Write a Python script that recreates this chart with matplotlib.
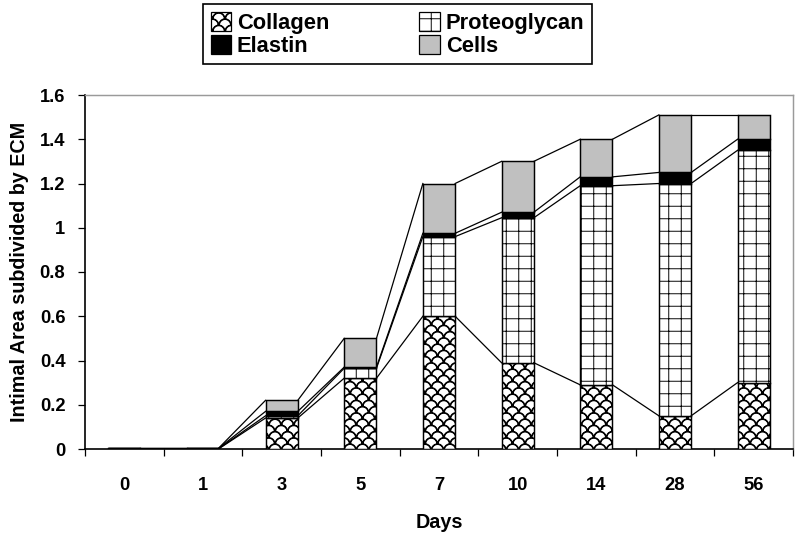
import numpy as np
import matplotlib
matplotlib.use("Agg")
import matplotlib.pyplot as plt
import matplotlib.hatch as mhatch
from matplotlib.path import Path
from matplotlib.patches import Patch
from matplotlib.ticker import FixedLocator, FuncFormatter

# values, stacked bottom -> top
days = ["0", "1", "3", "5", "7", "10", "14", "28", "56"]
collagen = [0.002, 0.002, 0.14, 0.32, 0.60, 0.39, 0.29, 0.15, 0.30]
proteoglycan = [0.001, 0.001, 0.01, 0.045, 0.36, 0.655, 0.90, 1.05, 1.05]
elastin = [0.002, 0.002, 0.02, 0.005, 0.015, 0.025, 0.04, 0.05, 0.05]
cells = [0.001, 0.001, 0.05, 0.13, 0.225, 0.23, 0.17, 0.26, 0.11]

series_names = ["Collagen", "Proteoglycan", "Elastin", "Cells"]
y_ticks = [0, 0.2, 0.4, 0.6, 0.8, 1.0, 1.2, 1.4, 1.6]


# --- scalloped "fish scale" hatch used for collagen (takes over the 'O' code)
_t = np.linspace(0, np.pi, 12)
_arc = np.column_stack([np.cos(_t), np.sin(_t)])
SCALE_VERTS = np.vstack([_arc, _arc[::-1] * 0.88, _arc[:1]])
SCALE_CODES = np.array([Path.MOVETO] + [Path.LINETO] * (len(SCALE_VERTS) - 2)
                       + [Path.CLOSEPOLY], dtype=Path.code_type)


class ScaleHatch(mhatch.HatchPatternBase):
    def __init__(self, hatch, density):
        self.ncols = hatch.count('O') * density
        self.nrows = 2 * self.ncols
        n_shapes = 0
        if self.ncols:
            n_shapes = sum(self.ncols + 1 if r % 2 == 0 else self.ncols
                           for r in range(self.nrows + 1))
        self.num_vertices = n_shapes * len(SCALE_VERTS)

    def set_vertices_and_codes(self, vertices, codes):
        step = 1.0 / self.ncols
        shape = SCALE_VERTS * step / 2
        parts = []
        for row in range(self.nrows + 1):
            if row % 2 == 0:
                xs = np.linspace(0, 1, self.ncols + 1)
            else:
                xs = (np.arange(self.ncols) + 0.5) * step
            for x in xs:
                parts.append(shape + [x, row * step / 2])
        np.concatenate(parts, out=vertices)
        codes[:] = np.tile(SCALE_CODES, len(parts))


mhatch._hatch_types[mhatch._hatch_types.index(mhatch.LargeCircles)] = ScaleHatch

plt.rcParams['font.family'] = ['Liberation Sans', 'DejaVu Sans']
plt.rcParams['font.weight'] = 'bold'
plt.rcParams['hatch.linewidth'] = 0.45
plt.rcParams['hatch.color'] = 'black'

DPI = 150
fig = plt.figure(figsize=(800 / DPI, 541 / DPI), dpi=DPI)
ax = fig.add_axes([85 / 800, 92 / 541, 708 / 800, 354 / 541])

styles = [
    dict(color='white', hatch='OO'),
    dict(color='white', hatch='++'),
    dict(color='black', hatch=None),
    dict(color='#c0c0c0', hatch=None),
]

x = np.arange(len(days))
width = 0.41
bottom = np.zeros(len(days))
tops = []
for vals, st in zip([collagen, proteoglycan, elastin, cells], styles):
    vals = np.asarray(vals)
    ax.bar(x, vals, width=width, bottom=bottom, color=st['color'],
           hatch=st['hatch'], edgecolor='black', linewidth=0.7, zorder=3)
    bottom = bottom + vals
    tops.append(bottom.copy())

# Excel-style series lines joining the segment tops of neighbouring bars
for top in tops:
    for i in range(len(days) - 1):
        ax.plot([x[i] + width / 2, x[i + 1] - width / 2], [top[i], top[i + 1]],
                color='black', linewidth=0.6, zorder=4)

ax.set_xlim(-0.5, len(days) - 0.5)
ax.set_ylim(0, 1.6)
ax.set_xticks(x)
ax.set_xticklabels(days)
ax.xaxis.set_minor_locator(FixedLocator(np.arange(len(days) + 1) - 0.5))
ax.tick_params(axis='x', which='major', length=0, pad=13.5, labelsize=8.8)
ax.tick_params(axis='x', which='minor', direction='out', length=3.4, width=0.6)
ax.set_yticks(y_ticks)
ax.yaxis.set_major_formatter(FuncFormatter(lambda v, p: f"{v:g}"))
ax.tick_params(axis='y', direction='out', length=3.4, width=0.6, pad=6,
               labelsize=8.8)

for side in ['left', 'bottom']:
    ax.spines[side].set_linewidth(0.8)
for side in ['top', 'right']:
    ax.spines[side].set_color('#9a9a9a')
    ax.spines[side].set_linewidth(0.7)

ax.set_xlabel("Days", fontsize=9.5, fontweight='bold', labelpad=9)
ax.set_ylabel("Intimal Area subdivided by ECM", fontsize=9.5,
              fontweight='bold', labelpad=5)

handles = [Patch(facecolor=st['color'], edgecolor='black', hatch=st['hatch'],
                 linewidth=0.6) for st in styles]
order = [0, 2, 1, 3]
leg = fig.legend([handles[i] for i in order], [series_names[i] for i in order],
                 loc='upper center', bbox_to_anchor=(203 / 800, 1 - 66 / 541, 389 / 800, 62 / 541),
                 mode='expand', ncol=2, fancybox=False, edgecolor='black',
                 framealpha=1, borderaxespad=0, borderpad=0.35, handlelength=0.95,
                 handleheight=0.95, handletextpad=0.25, labelspacing=0.05,
                 prop={'weight': 'bold', 'size': 10.5})
leg.get_frame().set_linewidth(0.8)

fig.savefig("out.png", dpi=DPI)
